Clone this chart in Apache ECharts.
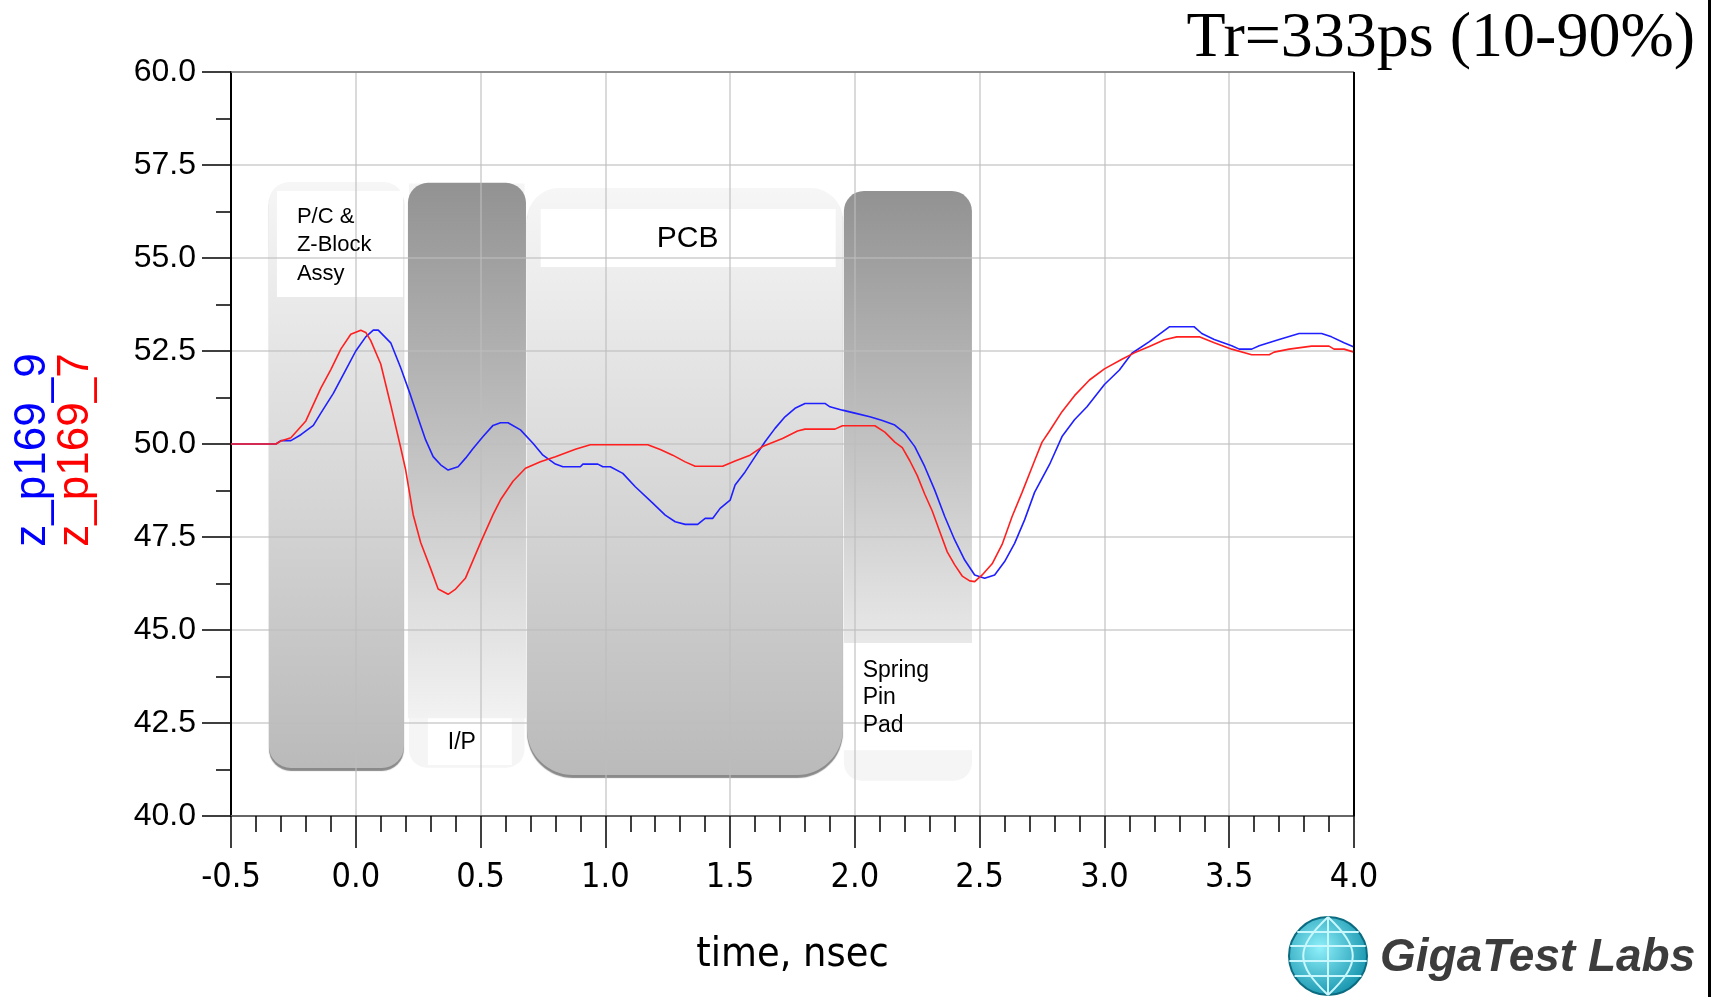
<!DOCTYPE html>
<html><head><meta charset="utf-8">
<script src="https://cdn.jsdelivr.net/npm/echarts@6/dist/echarts.min.js"></script>
<style>html,body{margin:0;padding:0;background:#fff;}#c{width:1718px;height:997px;}</style>
</head><body><div id="c"></div>
<script>
// ---- data ----
const seriesNames = ['z_p169_9', 'z_p169_7'];
const chartTitle = 'Tr=333ps (10-90%)';
const xAxisName = 'time, nsec';
const xRange = [-0.5, 4.0];
const yRange = [40, 60];

// z_p169_9 (blue)
const t9 = [-0.5,-0.32,-0.30,-0.26,-0.22,-0.17,-0.14,-0.09,-0.04,0.00,0.04,0.07,0.09,0.14,0.18,0.22,0.26,0.28,0.31,0.34,0.37,0.41,0.44,0.47,0.51,0.55,0.58,0.61,0.66,0.71,0.75,0.80,0.83,0.90,0.91,0.97,0.99,1.02,1.07,1.12,1.19,1.24,1.28,1.32,1.37,1.40,1.43,1.46,1.50,1.52,1.56,1.60,1.64,1.68,1.72,1.76,1.80,1.88,1.90,1.95,2.00,2.06,2.11,2.16,2.20,2.24,2.28,2.32,2.36,2.40,2.44,2.48,2.52,2.56,2.60,2.64,2.68,2.72,2.78,2.83,2.88,2.93,3.00,3.06,3.11,3.18,3.26,3.36,3.39,3.44,3.51,3.54,3.59,3.62,3.70,3.78,3.87,3.91,3.96,4.0];
const z9 = [50,50,50.09,50.09,50.25,50.5,50.83,51.36,51.99,52.5,52.88,53.06,53.06,52.72,52.05,51.3,50.5,50.11,49.66,49.44,49.3,49.39,49.62,49.88,50.2,50.5,50.57,50.57,50.38,50.02,49.7,49.46,49.39,49.39,49.46,49.46,49.39,49.39,49.21,48.85,48.41,48.09,47.91,47.84,47.84,48.0,48.0,48.27,48.49,48.9,49.25,49.66,50.06,50.42,50.73,50.96,51.09,51.09,51.0,50.91,50.83,50.73,50.63,50.51,50.29,49.93,49.39,48.76,48.05,47.42,46.88,46.48,46.39,46.48,46.84,47.33,47.96,48.7,49.45,50.2,50.65,51.0,51.6,51.99,52.44,52.75,53.15,53.15,52.97,52.81,52.64,52.55,52.55,52.64,52.81,52.97,52.97,52.88,52.72,52.61];

// z_p169_7 (red)
const t7 = [-0.5,-0.32,-0.30,-0.26,-0.20,-0.14,-0.10,-0.06,-0.02,0.02,0.04,0.06,0.10,0.14,0.18,0.20,0.23,0.26,0.30,0.33,0.37,0.40,0.44,0.50,0.55,0.58,0.63,0.68,0.74,0.80,0.88,0.94,1.17,1.22,1.27,1.32,1.36,1.47,1.52,1.58,1.63,1.71,1.77,1.80,1.92,1.95,2.08,2.12,2.16,2.19,2.22,2.25,2.28,2.31,2.34,2.37,2.40,2.43,2.46,2.48,2.51,2.55,2.59,2.63,2.67,2.72,2.75,2.78,2.83,2.88,2.94,3.00,3.07,3.12,3.18,3.24,3.29,3.38,3.44,3.51,3.59,3.66,3.68,3.74,3.83,3.90,3.92,3.96,4.0];
const z7 = [50,50,50.08,50.17,50.62,51.5,52.0,52.55,52.95,53.06,53.0,52.78,52.15,51.05,49.9,49.3,48.1,47.35,46.65,46.1,45.96,46.1,46.4,47.35,48.1,48.5,49.0,49.35,49.52,49.66,49.86,49.98,49.98,49.85,49.7,49.52,49.4,49.4,49.54,49.7,49.93,50.15,50.35,50.4,50.4,50.49,50.49,50.32,50.05,49.9,49.55,49.15,48.65,48.2,47.65,47.1,46.75,46.45,46.32,46.3,46.48,46.78,47.3,48.05,48.7,49.55,50.05,50.35,50.87,51.3,51.72,52.02,52.28,52.45,52.62,52.8,52.88,52.88,52.72,52.55,52.4,52.4,52.47,52.55,52.63,52.63,52.55,52.55,52.47];

// annotated sections (time spans, ns)
const sectionNames = ['P/C &\nZ-Block\nAssy', 'I/P', 'PCB', 'Spring\nPin\nPad'];
const sectionSpans = [[-0.348, 0.193], [0.209, 0.682], [0.686, 1.952], [1.956, 2.469]];

// ---- chart ----
const chart = echarts.init(document.getElementById('c'));
const pair = (ts, vs) => ts.map((t, i) => [t, vs[i]]);
const narrow = "'Liberation Sans Narrow','DejaVu Sans Condensed','Liberation Sans',sans-serif";
const sans = "'Liberation Sans',Arial,sans-serif";

chart.setOption({
  animation: false,
  backgroundColor: '#ffffff',
  grid: { left: 231, right: 364, top: 72, bottom: 181, show: false },
  xAxis: {
    type: 'value', min: xRange[0], max: xRange[1], interval: 0.5, z: 3,
    name: xAxisName, nameLocation: 'middle', nameGap: 119,
    nameTextStyle: { fontFamily: narrow, fontSize: 41, color: '#000' },
    axisLine: { show: true, onZero: false, lineStyle: { color: '#666', width: 2 } },
    axisTick: { show: true, inside: false, length: 32, lineStyle: { color: '#000', width: 1.5 } },
    minorTick: { show: true, splitNumber: 5, length: 16, lineStyle: { color: '#000', width: 1.5 } },
    axisLabel: { fontFamily: narrow, fontSize: 34, color: '#000', margin: 45, formatter: v => v.toFixed(1) },
    splitLine: { show: true, lineStyle: { color: '#bdbdbd', width: 1.5, opacity: 0.75 } }
  },
  yAxis: {
    type: 'value', min: yRange[0], max: yRange[1], interval: 2.5, z: 3,
    axisLine: { show: true, onZero: false, lineStyle: { color: '#000', width: 2 } },
    axisTick: { show: true, inside: false, length: 29, lineStyle: { color: '#000', width: 1.5 } },
    minorTick: { show: true, splitNumber: 2, length: 15, lineStyle: { color: '#000', width: 1.5 } },
    axisLabel: { fontFamily: sans, fontSize: 32, color: '#000', margin: 35, formatter: v => v.toFixed(1) },
    splitLine: { show: true, lineStyle: { color: '#bdbdbd', width: 1.5, opacity: 0.75 } }
  },
  series: [
    { name: seriesNames[0], type: 'line', data: pair(t9, z9), showSymbol: false, symbol: 'none',
      lineStyle: { color: '#1f1fff', width: 1.6 }, z: 4 },
    { name: seriesNames[1], type: 'line', data: pair(t7, z7), showSymbol: false, symbol: 'none',
      lineStyle: { color: '#ff1f1f', width: 1.6 }, z: 5 }
  ]
});

function px(t, v) { return chart.convertToPixel({ gridIndex: 0 }, [t, v]); }
function box(t0, t1, vTop, vBot) {
  const a = px(t0, vTop), b = px(t1, vBot);
  return { x: a[0], y: a[1], width: b[0] - a[0], height: b[1] - a[1] };
}
const lg = (stops) => new echarts.graphic.LinearGradient(0, 0, 0, 1, stops.map((c, i) => ({ offset: i / (stops.length - 1), color: c })));
const lightFill = () => lg(['#f6f6f6', '#bababa']);
const g = [];
const S = sectionSpans;

// Section 1: P/C & Z-Block (light)
g.push({ type: 'rect', z: -5, shape: Object.assign(box(S[0][0], S[0][1], 57.04, 41.29), { r: [20, 20, 22, 22] }),
  style: { fill: lightFill(), shadowColor: '#8a8a8a', shadowOffsetY: 3, shadowBlur: 1 } });
// Section 2: I/P (dark)
g.push({ type: 'rect', z: -6, shape: Object.assign(box(S[1][0] + 0.004, S[1][1] - 0.006, 57.0, 41.3), { r: [0, 0, 18, 18] }),
  style: { fill: '#f5f5f5' } });
g.push({ type: 'rect', z: -5, shape: Object.assign(box(S[1][0], S[1][1], 57.02, 42.63), { r: [20, 20, 0, 0] }),
  style: { fill: lg(['#929292', '#f2f2f2']) } });
// Section 3: PCB (light)
g.push({ type: 'rect', z: -5, shape: Object.assign(box(S[2][0], S[2][1], 56.88, 41.10), { r: [32, 32, 46, 46] }),
  style: { fill: lightFill(), shadowColor: '#8a8a8a', shadowOffsetY: 3, shadowBlur: 1 } });
// Section 4: Spring pin pad (dark)
g.push({ type: 'rect', z: -6, shape: Object.assign(box(S[3][0], S[3][1], 44.8, 40.95), { r: [0, 0, 18, 18] }),
  style: { fill: '#f5f5f5' } });
g.push({ type: 'rect', z: -5, shape: Object.assign(box(S[3][0], S[3][1], 44.7, 41.77), { r: 0 }),
  style: { fill: '#ffffff' } });
g.push({ type: 'rect', z: -5, shape: Object.assign(box(S[3][0], S[3][1], 56.80, 44.65), { r: [20, 20, 0, 0] }),
  style: { fill: lg(['#929292', '#e8e8e8']) } });

// label boxes
g.push({ type: 'rect', z: -4, shape: box(-0.316, 0.189, 56.8, 53.95), style: { fill: '#ffffff' } });
g.push({ type: 'rect', z: -4, shape: box(0.289, 0.625, 42.63, 41.37), style: { fill: '#ffffff' } });
g.push({ type: 'rect', z: -4, shape: box(0.741, 1.923, 56.32, 54.76), style: { fill: '#ffffff' } });

// label texts
function label(text, t, v, size, align, lh) {
  const p = px(t, v);
  g.push({ type: 'text', z: 6, x: p[0], y: p[1],
    style: { text: text, fill: '#000', fontFamily: sans, fontSize: size, lineHeight: lh || size * 1.25,
      align: align, verticalAlign: 'middle' } });
}
label(sectionNames[0], -0.236, 55.35, 22, 'left', 28.5);
label(sectionNames[1], 0.425, 41.96, 23, 'center');
label(sectionNames[2], 1.330, 55.51, 30, 'center');
label(sectionNames[3], 2.031, 43.17, 23, 'left', 27.5);

// plot frame: top (gray) and right (black)
const tl = px(xRange[0], yRange[1]), tr = px(xRange[1], yRange[1]), br = px(xRange[1], yRange[0]);
g.push({ type: 'line', z: 7, shape: { x1: tl[0], y1: tl[1], x2: tr[0], y2: tr[1] }, style: { stroke: '#777', lineWidth: 1.5 } });
g.push({ type: 'line', z: 7, shape: { x1: tr[0], y1: tr[1], x2: br[0], y2: br[1] }, style: { stroke: '#000', lineWidth: 2 } });

// page right border
g.push({ type: 'rect', z: 7, shape: { x: 1708, y: 0, width: 3, height: 997 }, style: { fill: '#000' } });

// title
g.push({ type: 'text', z: 7, x: 1695, y: 39,
  style: { text: chartTitle, fill: '#000', fontFamily: "'Liberation Serif','Times New Roman',serif", fontSize: 64,
    align: 'right', verticalAlign: 'middle' } });

// rotated y-axis names
g.push({ type: 'text', z: 7, x: 33, y: 450, rotation: Math.PI / 2,
  style: { text: seriesNames[0], fill: '#0000ff', fontFamily: sans, fontSize: 44, align: 'center', verticalAlign: 'middle' } });
g.push({ type: 'text', z: 7, x: 76, y: 450, rotation: Math.PI / 2,
  style: { text: seriesNames[1], fill: '#ff0000', fontFamily: sans, fontSize: 44, align: 'center', verticalAlign: 'middle' } });

// logo
const cx = 1328, cy = 956, r = 39;
g.push({ type: 'circle', z: 7, shape: { cx: cx, cy: cy, r: r },
  style: { fill: new echarts.graphic.RadialGradient(0.4, 0.4, 0.7, [{ offset: 0, color: '#8ff0fa' }, { offset: 1, color: '#0a8ba6' }]),
    stroke: '#0b6b80', lineWidth: 2 } });
[-24, -10, 5, 20].forEach(dy => {
  const hw = Math.sqrt(r * r - dy * dy);
  g.push({ type: 'line', z: 8, shape: { x1: cx - hw, y1: cy + dy, x2: cx + hw, y2: cy + dy }, style: { stroke: '#c8f7fd', lineWidth: 2 } });
});
[-22, 0, 22].forEach(dx => {
  g.push({ type: 'bezierCurve', z: 8, shape: { x1: cx, y1: cy - r, x2: cx, y2: cy + r, cpx1: cx + dx * 1.5, cpy1: cy - r * 0.2, cpx2: cx + dx * 1.5, cpy2: cy + r * 0.2 },
    style: { stroke: '#c8f7fd', lineWidth: 2, fill: null } });
});
g.push({ type: 'text', z: 8, x: 1380, y: 958,
  style: { text: 'GigaTest Labs', fill: '#3c3c3c', fontFamily: sans, fontSize: 46, fontWeight: 'bold', fontStyle: 'italic',
    align: 'left', verticalAlign: 'middle' } });

chart.setOption({ graphic: g });
</script>
</body></html>
